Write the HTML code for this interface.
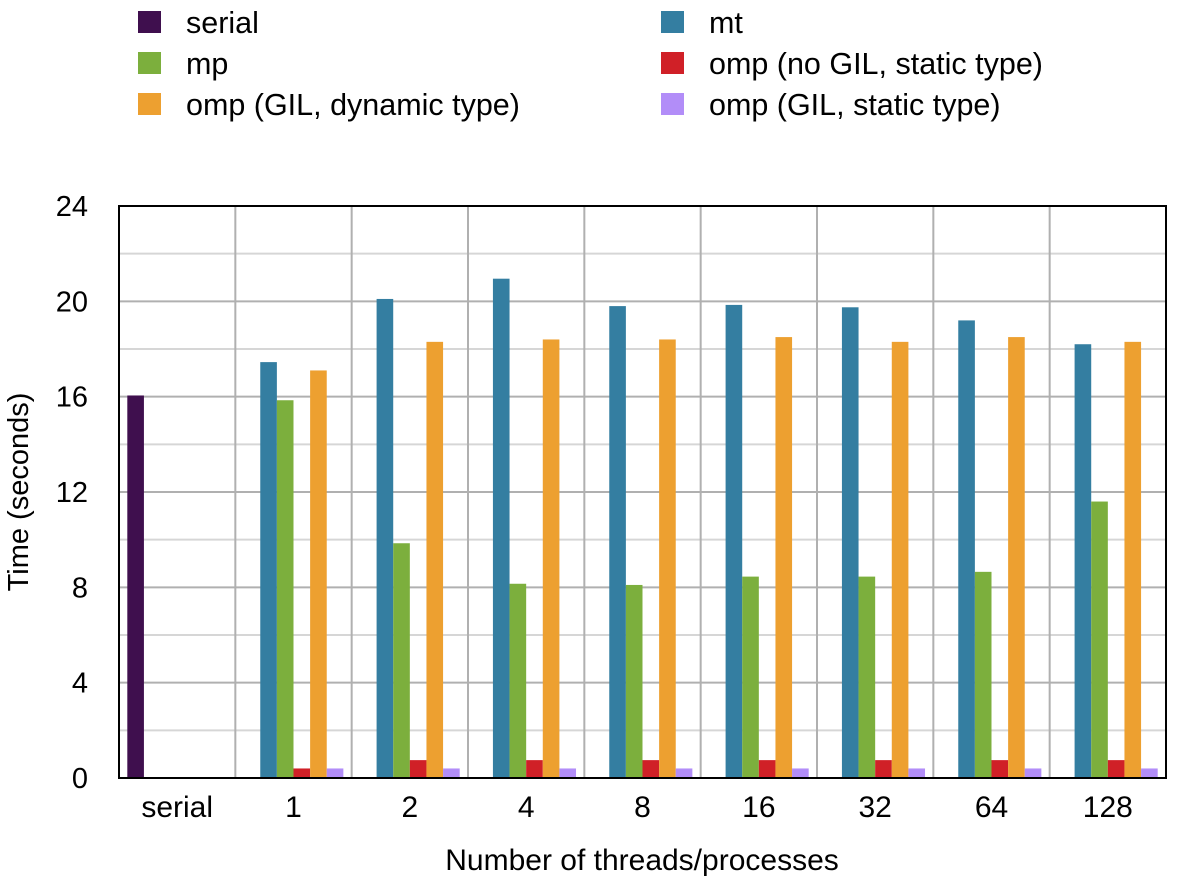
<!DOCTYPE html>
<html><head><meta charset="utf-8"><style>
body{margin:0;background:#fff;}
svg text{font-family:"Liberation Sans",sans-serif;fill:#000;}
</style></head><body>
<svg id="chart" width="1177" height="881" viewBox="0 0 1177 881" xmlns="http://www.w3.org/2000/svg">
<g id="grid"></g>
<g id="bars"></g>
<g id="axes"></g>
<g id="legend"></g>
<text x="642" y="870" font-size="30" text-anchor="middle">Number of threads/processes</text>
<text transform="translate(28,492) rotate(-90)" font-size="29" text-anchor="middle">Time (seconds)</text>
</svg>
<script>
const categories=["serial","1","2","4","8","16","32","64","128"];
const seriesNames=["serial","mt","mp","omp (no GIL, static type)","omp (GIL, dynamic type)","omp (GIL, static type)"];
const serialVals=[16.05,null,null,null,null,null,null,null,null];
const mtVals=[null,17.45,20.1,20.95,19.8,19.85,19.75,19.2,18.2];
const mpVals=[null,15.85,9.85,8.15,8.1,8.45,8.45,8.65,11.6];
const ompNoGilVals=[null,0.4,0.75,0.75,0.75,0.75,0.75,0.75,0.75];
const ompDynVals=[null,17.1,18.3,18.4,18.4,18.5,18.3,18.5,18.3];
const ompStaticVals=[null,0.4,0.4,0.4,0.4,0.4,0.4,0.4,0.4];
const yTicks=[0,4,8,12,16,20,24];
const colors=["#3f0f4e","#347ea1","#7caf3d","#d02027","#eda030","#b28df8"];
const allSeries=[serialVals,mtVals,mpVals,ompNoGilVals,ompDynVals,ompStaticVals];
const NS="http://www.w3.org/2000/svg";
const L=119,R=1166,T=206,B=778,YMAX=24;
const gw=(R-L)/categories.length, slot=gw/7;
function y(v){return B-(v/YMAX)*(B-T);}
function mk(tag,attrs,parent){const e=document.createElementNS(NS,tag);for(const k in attrs)e.setAttribute(k,attrs[k]);parent.appendChild(e);return e;}
const grid=document.getElementById('grid'),bars=document.getElementById('bars'),axes=document.getElementById('axes'),legend=document.getElementById('legend');
for(let v=0;v<=YMAX;v+=2){const l=mk('line',{x1:L,x2:R,y1:y(v),y2:y(v),stroke:v%4?'#d6d6d6':'#b0b0b0','stroke-width':2},grid);

}
for(let i=1;i<categories.length;i++){const l=mk('line',{x1:L+i*gw,x2:L+i*gw,y1:T,y2:B,stroke:'#b0b0b0','stroke-width':2},grid);

}
allSeries.forEach((vals,s)=>{vals.forEach((v,i)=>{if(v==null)return;
const r=mk('rect',{x:L+i*gw+(s+0.5)*slot,y:y(v),width:slot,height:B-y(v),fill:colors[s]},bars);

});});
const frame=mk('rect',{x:L,y:T,width:R-L,height:B-T,fill:'none',stroke:'#000','stroke-width':2},axes);


yTicks.forEach(v=>{const t=mk('text',{x:88,y:y(v)+10,'font-size':29,'text-anchor':'end'},axes);t.textContent=v;

});
categories.forEach((c,i)=>{const t=mk('text',{x:L+(i+0.5)*gw,y:817,'font-size':30,'text-anchor':'middle'},axes);t.textContent=c;

});
const legOrder=[[0,138,22],[2,138,63],[4,138,104],[1,661,22],[3,661,63],[5,661,104]];
legOrder.forEach(([s,x,cy])=>{const g=mk('g',{},legend);


mk('rect',{x:x,y:cy-11,width:23,height:22,fill:colors[s]},g);
const t=mk('text',{x:x+48,y:cy+11,'font-size':30.5},g);t.textContent=seriesNames[s];});
</script>
</body></html>
